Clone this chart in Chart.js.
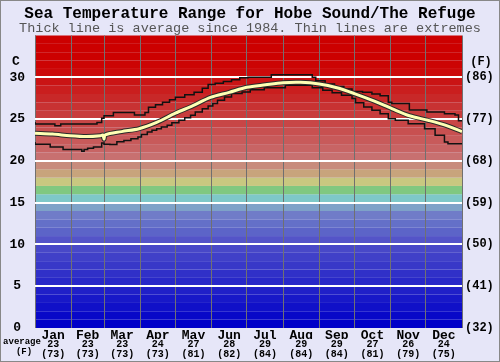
<!DOCTYPE html>
<html>
<head>
<meta charset="utf-8">
<script src="https://cdn.jsdelivr.net/npm/chart.js@4"></script>
<style>
  body { margin: 0; background: #e6e6f8; }
  canvas { display: block; }
</style>
</head>
<body>
<canvas id="sea-chart" width="500" height="362"></canvas>
<script>
// Month labels and positions (day of year)
const months = ['Jan', 'Feb', 'Mar', 'Apr', 'May', 'Jun', 'Jul', 'Aug', 'Sep', 'Oct', 'Nov', 'Dec']
const monthStarts = [0, 31, 59, 90, 120, 151, 181, 212, 243, 273, 304, 334, 365]
const monthMids = [15.5, 45, 74.5, 105, 135.5, 166, 196.5, 227.5, 258, 288.5, 319, 349.5]
const monthAvgC = ['23', '23', '23', '24', '27', '28', '29', '29', '29', '27', '26', '24']
const monthAvgF = ['(73)', '(73)', '(73)', '(73)', '(81)', '(82)', '(84)', '(84)', '(84)', '(81)', '(79)', '(75)']

// Axis ticks
const yTicks = [0, 5, 10, 15, 20, 25, 30]
const fahrenheitLabels = ['(32)', '(41)', '(50)', '(59)', '(68)', '(77)', '(86)']

// Average line (day, °C)
const avgDays = [0, 15, 30, 44, 56, 58, 59, 60, 74, 89, 104, 120, 135, 150, 166, 181, 197, 212, 227, 243, 258, 273, 289, 305, 320, 336, 350, 365]
const avgTemps = [23.3, 23.2, 23.0, 22.9, 23.0, 23.1, 22.6, 23.1, 23.5, 23.85, 24.6, 25.7, 26.6, 27.6, 28.2, 28.8, 29.1, 29.35, 29.4, 29.2, 28.75, 28.05, 27.2, 26.25, 25.4, 24.85, 24.3, 23.5]

// Highest recorded (day, °C)
const maxDays = [0, 17, 22, 53, 57, 59, 67, 85, 94, 97, 103, 109, 115, 120, 128, 136, 143, 148, 154, 161, 168, 175, 182, 202, 222, 237, 240, 248, 256, 264, 271, 280, 288, 295, 302, 305, 320, 335, 350, 359, 362, 365]
const maxTemps = [24.65, 24.4, 24.2, 24.4, 24.6, 25.1, 25.4, 25.8, 25.5, 25.8, 26.4, 26.7, 27.0, 27.3, 27.6, 27.9, 28.2, 28.7, 29.15, 29.3, 29.5, 29.7, 29.95, 30.0, 30.3, 30.3, 30.0, 29.6, 29.2, 28.9, 28.6, 28.3, 28.2, 28.0, 27.8, 27.0, 26.85, 26.1, 25.85, 25.65, 25.5, 24.8]

// Lowest recorded (day, °C)
const minDays = [0, 13, 24, 40, 42, 45, 50, 57, 59, 64, 70, 76, 82, 88, 91, 96, 100, 104, 108, 113, 117, 123, 128, 133, 137, 143, 148, 152, 156, 162, 168, 177, 184, 196, 214, 237, 246, 254, 262, 271, 274, 281, 288, 295, 302, 308, 319, 333, 342, 350, 353, 365]
const minTemps = [22.25, 22.0, 21.65, 21.35, 21.15, 21.35, 21.5, 21.65, 22.15, 22.0, 21.95, 22.3, 22.45, 22.65, 22.85, 23.15, 23.45, 23.65, 23.85, 24.05, 24.25, 24.55, 24.85, 25.15, 25.45, 25.85, 26.25, 26.55, 26.85, 27.25, 27.65, 28.05, 28.25, 28.5, 28.75, 29.05, 28.75, 28.45, 28.15, 27.85, 27.45, 26.95, 26.45, 26.05, 25.65, 25.05, 24.85, 24.45, 23.85, 23.05, 22.25, 22.05]

// One colour per degree band, from 0-1 °C up to 34-35 °C
const bandColors = [
    '#0000c8', '#0808c8', '#1010c8', '#1818c8', '#2020c8', '#2828c8', '#3030c8', '#3838c8', '#4040c8', '#4848c8',
    '#5454c8', '#5c64c8', '#6470c8', '#707cc8', '#7ea2c8', '#7ec8c8', '#80c880', '#c8c880', '#c8a47c', '#c88c7c',
    '#c87070', '#c86464', '#c85a5a', '#c85050', '#c84646', '#c83c3c', '#c83232', '#c82828', '#ca1e1e', '#ca1414',
    '#cc0a0a', '#cc0404', '#cc0000', '#cc0000', '#cc0000'
]

function toPoints(days, temps) {
    return days.map((d, i) => ({ x: d, y: temps[i] }))
}

const monoFont = "'Liberation Mono', 'DejaVu Sans Mono', monospace"

// Coloured temperature bands behind the grid, plus the extra labels
const bandsPlugin = {
    id: 'bands',
    beforeDraw(chart) {
        const { ctx, chartArea, scales } = chart
        const y = scales.y
        ctx.save()
        bandColors.forEach((color, d) => {
            const top = y.getPixelForValue(d + 1)
            const bottom = y.getPixelForValue(d)
            ctx.fillStyle = color
            ctx.fillRect(chartArea.left, top, chartArea.right - chartArea.left, bottom - top)
        })
        ctx.restore()
    },
    afterDraw(chart) {
        const ctx = chart.ctx
        ctx.save()
        ctx.fillStyle = '#000'
        ctx.textAlign = 'center'
        ctx.textBaseline = 'middle'
        ctx.font = 'bold 13px ' + monoFont
        ctx.fillText('C', 16, 62)
        ctx.font = 'bold 12px ' + monoFont
        ctx.fillText('(F)', 481, 62)
        ctx.font = 'bold 9px ' + monoFont
        ctx.fillText('average', 22, 342)
        ctx.fillText('(F)', 24, 352)
        ctx.strokeStyle = '#888'
        ctx.lineWidth = 1
        ctx.strokeRect(0.5, 0.5, 499, 361)
        ctx.restore()
    }
}

const ctx = document.getElementById('sea-chart')
const seaChart = new Chart(ctx, {
    type: 'line',
    data: {
        datasets: [
            {
                label: 'Highest',
                data: toPoints(maxDays, maxTemps),
                borderColor: '#111',
                borderWidth: 1.5,
                stepped: 'after',
                pointRadius: 0,
                order: 3
            },
            {
                label: 'Lowest',
                data: toPoints(minDays, minTemps),
                borderColor: '#111',
                borderWidth: 1.5,
                stepped: 'after',
                pointRadius: 0,
                order: 3
            },
            {
                label: 'Average outline',
                data: toPoints(avgDays, avgTemps),
                borderColor: '#2a2a2a',
                borderWidth: 5,
                tension: 0.3,
                pointRadius: 0,
                order: 2
            },
            {
                label: 'Average',
                data: toPoints(avgDays, avgTemps),
                borderColor: '#ffffb4',
                borderWidth: 3,
                tension: 0.3,
                pointRadius: 0,
                order: 1
            }
        ]
    },
    options: {
        responsive: false,
        animation: false,
        layout: { padding: 0 },
        scales: {
            x: {
                type: 'linear',
                position: 'bottom',
                weight: 0,
                min: 0,
                max: 365,
                afterBuildTicks: s => { s.ticks = monthStarts.map(v => ({ value: v })) },
                ticks: { display: false },
                grid: { color: '#707070', lineWidth: 1, drawTicks: false },
                border: { display: false },
                afterFit: s => { s.height = 0 }
            },
            xMonth: {
                type: 'linear',
                position: 'bottom',
                weight: 1,
                min: 0,
                max: 365,
                afterBuildTicks: s => { s.ticks = monthMids.map(v => ({ value: v })) },
                ticks: {
                    callback: (v, i) => months[i],
                    font: { family: monoFont, size: 13, weight: 'bold', lineHeight: 1 },
                    color: '#000',
                    padding: 1,
                    maxRotation: 0,
                    autoSkip: false
                },
                grid: { display: false, drawTicks: false },
                border: { display: false },
                afterFit: s => { s.height = 11 }
            },
            xAvg: {
                type: 'linear',
                position: 'bottom',
                weight: 2,
                min: 0,
                max: 365,
                afterBuildTicks: s => { s.ticks = monthMids.map(v => ({ value: v })) },
                ticks: {
                    callback: (v, i) => [monthAvgC[i], monthAvgF[i]],
                    font: { family: monoFont, size: 10, weight: 'bold', lineHeight: 1 },
                    color: '#000',
                    padding: 0,
                    maxRotation: 0,
                    autoSkip: false
                },
                grid: { display: false, drawTicks: false },
                border: { display: false },
                afterFit: s => { s.height = 23 }
            },
            y: {
                min: 0,
                max: 35,
                afterBuildTicks: s => { s.ticks = yTicks.map(v => ({ value: v })) },
                ticks: {
                    callback: v => String(v),
                    font: { family: monoFont, size: 13, weight: 'bold' },
                    color: '#000',
                    padding: 10,
                    crossAlign: 'center'
                },
                grid: {
                    color: c => (c.tick && c.tick.value === 0) ? 'rgba(0,0,0,0)' : '#ffffff',
                    lineWidth: 2,
                    drawTicks: false
                },
                border: { display: false },
                afterFit: s => { s.width = 35 }
            },
            y2: {
                position: 'right',
                min: 0,
                max: 35,
                afterBuildTicks: s => { s.ticks = yTicks.map(v => ({ value: v })) },
                ticks: {
                    callback: (v, i) => fahrenheitLabels[i],
                    font: { family: monoFont, size: 12, weight: 'bold' },
                    color: '#000',
                    padding: 3
                },
                grid: { display: false, drawTicks: false },
                border: { display: false },
                afterFit: s => { s.width = 38 }
            }
        },
        plugins: {
            legend: { display: false },
            tooltip: { enabled: false },
            title: {
                display: true,
                text: 'Sea Temperature Range for Hobe Sound/The Refuge',
                font: { family: monoFont, size: 16, weight: 'bold', lineHeight: 1 },
                color: '#000',
                padding: { top: 6, bottom: 0 }
            },
            subtitle: {
                display: true,
                text: 'Thick line is average since 1984. Thin lines are extremes',
                font: { family: monoFont, size: 13.5, lineHeight: 1 },
                color: '#555',
                padding: { top: 0, bottom: 0 }
            }
        }
    },
    plugins: [bandsPlugin]
})
</script>
</body>
</html>
